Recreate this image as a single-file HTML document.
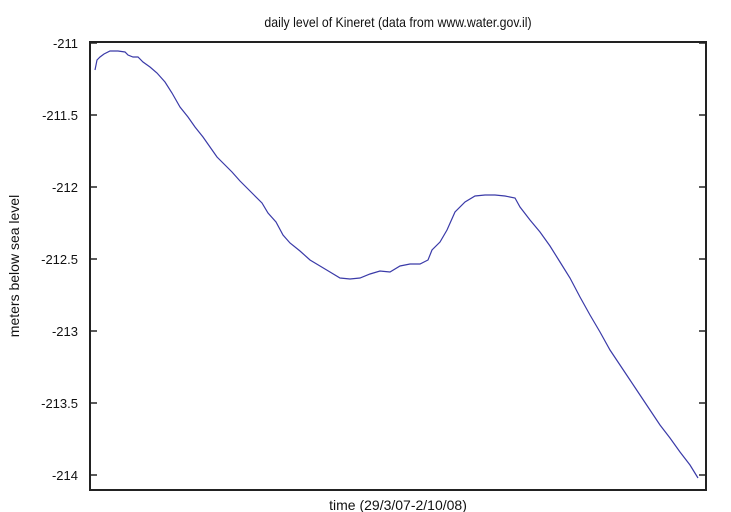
<!DOCTYPE html>
<html><head><meta charset="utf-8"><style>
html,body{margin:0;padding:0;background:#fff;}
svg{display:block;font-family:"Liberation Sans",sans-serif;}
</style></head><body>
<svg width="731" height="512" viewBox="0 0 731 512">
<rect width="731" height="512" fill="#fff"/>
<text x="398" y="27" font-size="14" text-anchor="middle" fill="#111" transform="translate(398 0) scale(0.88 1) translate(-398 0)">daily level of Kineret (data from www.water.gov.il)</text>
<rect x="90" y="42" width="616" height="448" fill="none" stroke="#222" stroke-width="2"/>
<g stroke="#222" stroke-width="1.5">
<line x1="90" y1="43" x2="97" y2="43"/><line x1="699" y1="43" x2="706" y2="43"/>
<line x1="90" y1="115" x2="97" y2="115"/><line x1="699" y1="115" x2="706" y2="115"/>
<line x1="90" y1="187" x2="97" y2="187"/><line x1="699" y1="187" x2="706" y2="187"/>
<line x1="90" y1="259" x2="97" y2="259"/><line x1="699" y1="259" x2="706" y2="259"/>
<line x1="90" y1="331" x2="97" y2="331"/><line x1="699" y1="331" x2="706" y2="331"/>
<line x1="90" y1="403" x2="97" y2="403"/><line x1="699" y1="403" x2="706" y2="403"/>
<line x1="90" y1="475" x2="97" y2="475"/><line x1="699" y1="475" x2="706" y2="475"/>
</g>
<g font-size="13" fill="#111" text-anchor="end">
<text x="78" y="48">-211</text>
<text x="78" y="120">-211.5</text>
<text x="78" y="192">-212</text>
<text x="78" y="264">-212.5</text>
<text x="78" y="336">-213</text>
<text x="78" y="408">-213.5</text>
<text x="78" y="480">-214</text>
</g>
<text x="398" y="510" font-size="14" text-anchor="middle" fill="#111">time (29/3/07-2/10/08)</text>
<text transform="translate(19 266) rotate(-90)" font-size="14" text-anchor="middle" fill="#111">meters below sea level</text>
<polyline fill="none" stroke="#3a3aa8" stroke-width="1.2" points="95,70 97,60 100,57 104,54 110,51 118,51 125,52 128,55 133,57 138,57 143,62 150,67 157,73 165,82 172,93 180,107 188,117 195,127 203,137 210,147 217,157 225,165 232,172 240,181 247,188 254,195 262,203 268,213 276,222 283,235 290,243 300,251 310,260 320,266 330,272 340,278 350,279 360,278 370,274 380,271 390,272 400,266 410,264 420,264 428,260 432,250 440,242 447,230 455,212 465,202 475,196 485,195 495,195 505,196 515,198 520,207 530,220 540,232 550,246 560,262 570,278 580,297 590,315 600,332 610,350 620,365 630,380 640,395 650,410 660,425 670,438 680,452 690,465 698,478"/>
</svg>
</body></html>
